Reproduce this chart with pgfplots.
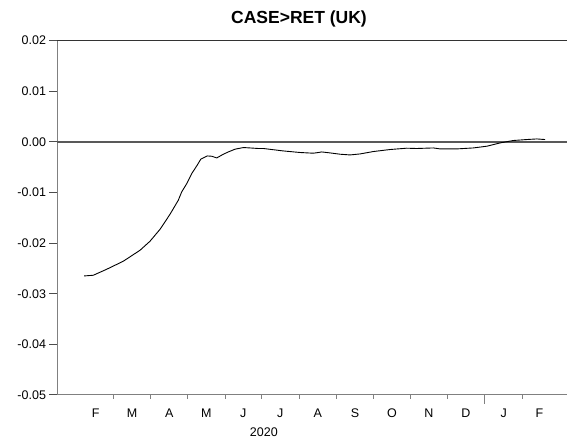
\documentclass[border=0pt]{standalone}
\usepackage{pgfplots}
\pgfplotsset{compat=1.18}
\usepackage{fontspec}
\setmainfont{Liberation Sans}

% x = days since 1 Jan 2020
\pgfplotstableread{
d v
35.9 -0.02648
43.5 -0.02634
54.6 -0.02515
68.2 -0.02357
82.0 -0.02140
90.2 -0.01962
98.5 -0.01725
106.7 -0.01429
113.5 -0.01152
116.3 -0.00988
120.5 -0.00822
124.6 -0.00624
128.7 -0.00474
132.0 -0.00342
137.4 -0.00277
141.1 -0.00283
145.2 -0.00316
150.6 -0.00243
154.7 -0.00198
160.2 -0.00144
167.1 -0.00111
172.6 -0.00119
179.4 -0.00130
183.6 -0.00130
200.0 -0.00178
213.8 -0.00209
224.7 -0.00223
228.9 -0.00209
231.7 -0.00198
238.5 -0.00217
246.8 -0.00243
255.0 -0.00257
263.3 -0.00237
274.2 -0.00190
288.0 -0.00150
301.7 -0.00124
309.9 -0.00130
323.6 -0.00119
329.1 -0.00138
342.9 -0.00138
356.5 -0.00119
367.6 -0.00085
378.5 -0.00020
389.5 0.00028
400.5 0.00047
408.8 0.00059
415.6 0.00047
}\uk

\begin{document}
\begin{tikzpicture}
\begin{axis}[
  scale only axis,
  width=509.5pt, height=354.3pt,
  xmin=14, xmax=433.7,
  ymin=-0.05, ymax=0.02,
  axis lines*=left,
  axis line style={gray, line width=1pt},
  tick align=outside,
  major tick length=8pt,
  minor tick length=4pt,
  scaled y ticks=false,
  ytick={-0.05,-0.04,-0.03,-0.02,-0.01,0,0.01,0.02},
  yticklabels={-0.05,-0.04,-0.03,-0.02,-0.01,0.00,0.01,0.02},
  xtick={45.5,75.5,106,136.5,167,197.5,228.5,259,289.5,320,350.5,381.5,411},
  xticklabels={F,M,A,M,J,J,A,S,O,N,D,J,F},
  xticklabel style={yshift=-2pt},
  minor xtick={60,91,121,152,182,213,244,274,305,335,397},
  major x tick style={draw=none},
  minor x tick style={gray, line width=1pt},
  major y tick style={gray!60!black, line width=1pt},
  tick label style={font=\fontsize{12.5}{14}\selectfont},
  title={CASE>RET (UK)},
  title style={font=\bfseries\fontsize{17.5}{19}\selectfont, at={(0.474,1)}, anchor=base, yshift=11pt},
  clip=false,
]
\draw[gray!70!black, line width=1.4pt] (axis cs:14,0) -- (axis cs:433.7,0);
\draw[black!80, line width=1.4pt] (rel axis cs:0,1) -- (rel axis cs:1,1);
\draw[gray, line width=1pt] (axis cs:366,-0.05) -- ([yshift=-9pt]axis cs:366,-0.05);
\addplot[black, line width=0.9pt] table[x=d, y=v] {\uk};
\node[font=\fontsize{12.5}{14}\selectfont] at (axis cs:184,-0.05) [yshift=-37pt] {2020};
\coordinate (bl) at (rel axis cs:0,0);
\coordinate (tr) at (rel axis cs:1,1);
\end{axis}
\pgfresetboundingbox
\useasboundingbox ([shift={(-57.5pt,-47pt)}]bl) rectangle ([shift={(0pt,40.7pt)}]tr);
\end{tikzpicture}
\end{document}
